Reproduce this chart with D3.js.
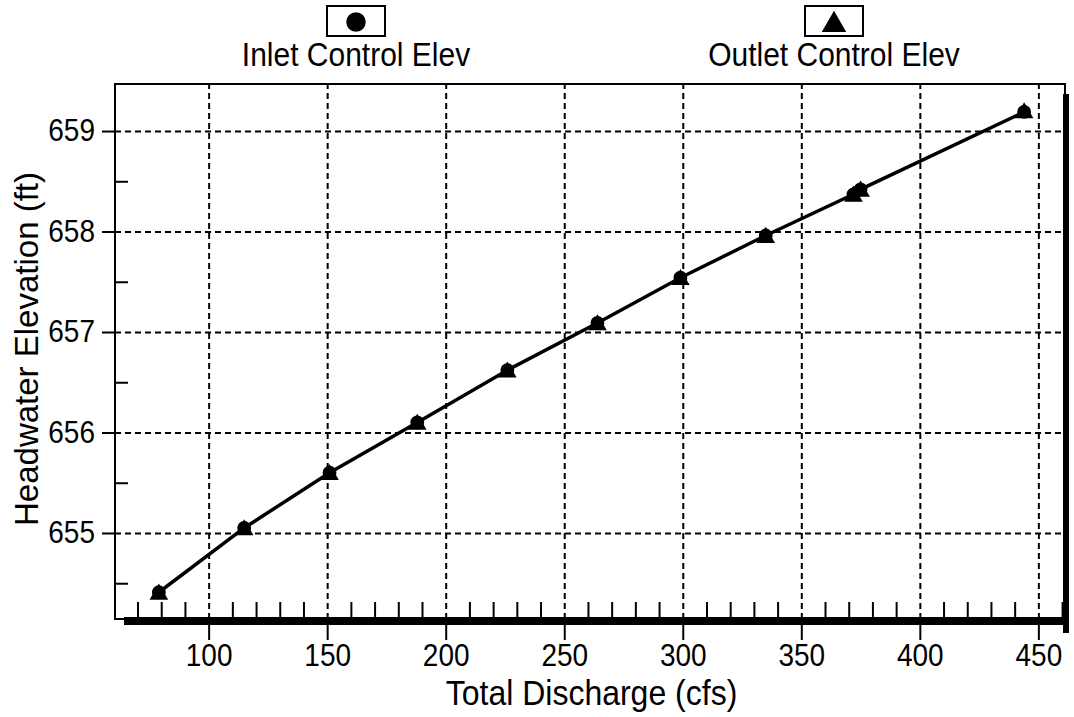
<!DOCTYPE html>
<html>
<head>
<meta charset="utf-8">
<script src="https://d3js.org/d3.v7.min.js"></script>
<style>
  body { margin: 0; background: #fff; }
  text { font-family: "Liberation Sans", Arial, sans-serif; fill: #000; }
</style>
</head>
<body>
<div id="chart"></div>
<script>
// data
var discharge  = [79, 115, 151, 188, 226, 264, 299, 335, 372, 375, 444];
var inletElev  = [654.41, 655.05, 655.60, 656.10, 656.62, 657.09, 657.54, 657.96, 658.37, 658.42, 659.19];
var outletElev = [654.40, 655.04, 655.59, 656.09, 656.61, 657.08, 657.53, 657.95, 658.36, 658.41, 659.19];
var xTicks = [100, 150, 200, 250, 300, 350, 400, 450];
var yTicks = [655, 656, 657, 658, 659];
var xMinor = d3.range(70, 461, 10).filter(function(d) { return d % 50 != 0; });
var yMinor = [654.5, 655.5, 656.5, 657.5, 658.5];
var legendNames = ["Inlet Control Elev", "Outlet Control Elev"];

// set the dimensions and margins of the graph
var margin = {top: 84, right: 6, bottom: 98, left: 115},
    width = 1074 - margin.left - margin.right,
    height = 717 - margin.top - margin.bottom;

var svg = d3.select("#chart")
  .append("svg")
    .attr("width", 1074)
    .attr("height", 717)
  .append("g")
    .attr("transform", "translate(" + margin.left + "," + margin.top + ")");

var x = d3.scaleLinear()
  .domain([60.5, 462.5])
  .range([0, width]);

var y = d3.scaleLinear()
  .domain([654.144, 659.468])
  .range([height, 0]);

// dashed grid
svg.append("g")
  .attr("class", "grid")
  .attr("transform", "translate(0," + height + ")")
  .call(d3.axisBottom(x).tickValues(xTicks).tickSize(-height).tickFormat(""));
svg.append("g")
  .attr("class", "grid")
  .call(d3.axisLeft(y).tickValues(yTicks).tickSize(-width).tickFormat(""));
svg.selectAll(".grid .domain").remove();
svg.selectAll(".grid line")
  .attr("stroke", "#000")
  .attr("stroke-width", 2)
  .attr("stroke-dasharray", "6,4");

// minor ticks pointing inward
svg.append("g")
  .attr("transform", "translate(0," + height + ")")
  .call(d3.axisBottom(x).tickValues(xMinor).tickSize(-17).tickFormat(""))
  .selectAll("line").attr("stroke-width", 2);
svg.append("g")
  .call(d3.axisLeft(y).tickValues(yMinor).tickSize(-13).tickFormat(""))
  .selectAll("line").attr("stroke-width", 2);

// frame with heavy shadow at right and bottom
svg.append("rect")
  .attr("x", 0).attr("y", 0)
  .attr("width", width - 3).attr("height", height)
  .attr("fill", "none")
  .attr("stroke", "#000")
  .attr("stroke-width", 2);
svg.append("rect")
  .attr("x", 9).attr("y", height - 2)
  .attr("width", width - 9).attr("height", 8)
  .attr("fill", "#000");
svg.append("rect")
  .attr("x", width - 5).attr("y", 10)
  .attr("width", 6).attr("height", height + 4)
  .attr("fill", "#000");

// major axes with labels (text a bit stretched vertically, like the original)
var xAxis = svg.append("g")
  .attr("transform", "translate(0," + height + ")")
  .call(d3.axisBottom(x).tickValues(xTicks).tickSize(21).tickPadding(2));
var yAxis = svg.append("g")
  .call(d3.axisLeft(y).tickValues(yTicks).tickSize(13).tickPadding(7).tickFormat(d3.format("d")));
svg.selectAll(".domain").remove();
xAxis.selectAll("line").attr("stroke-width", 2);
yAxis.selectAll("line").attr("stroke-width", 2);
xAxis.selectAll("text")
  .attr("font-size", 28)
  .attr("font-family", "Liberation Sans, Arial, sans-serif")
  .attr("transform", "scale(1,1.1)");
yAxis.selectAll("text")
  .attr("font-size", 28)
  .attr("font-family", "Liberation Sans, Arial, sans-serif")
  .attr("transform", "scale(1,1.1)");

// line
var pts = discharge.map(function(d, i) { return [d, inletElev[i]]; });
svg.append("path")
  .datum(pts)
  .attr("fill", "none")
  .attr("stroke", "#000")
  .attr("stroke-width", 3.5)
  .attr("d", d3.line()
    .x(function(d) { return x(d[0]); })
    .y(function(d) { return y(d[1]); }));

// markers
svg.selectAll(".inlet")
  .data(discharge)
  .enter()
  .append("path")
    .attr("class", "inlet")
    .attr("d", d3.symbol().type(d3.symbolCircle).size(150))
    .attr("transform", function(d, i) { return "translate(" + x(d) + "," + y(inletElev[i]) + ")"; })
    .attr("fill", "#000");
svg.selectAll(".outlet")
  .data(discharge)
  .enter()
  .append("path")
    .attr("class", "outlet")
    .attr("d", d3.symbol().type(d3.symbolTriangle).size(150))
    .attr("transform", function(d, i) { return "translate(" + x(d) + "," + (y(outletElev[i]) + 1) + ")"; })
    .attr("fill", "#000");

// axis titles
svg.append("text")
  .attr("transform", "translate(" + (width / 2) + "," + (height + 86) + ")scale(1,1.08)")
  .attr("text-anchor", "middle")
  .attr("font-size", 32)
  .text("Total Discharge (cfs)");
svg.append("text")
  .attr("transform", "translate(" + (38 - margin.left) + "," + 265 + ")rotate(-90)")
  .attr("text-anchor", "middle")
  .attr("font-size", 33)
  .text("Headwater Elevation (ft)");

// legend above the plot
var legendX = [356, 834];
var legend = d3.select("svg").selectAll(".legend")
  .data(legendNames)
  .enter()
  .append("g")
    .attr("class", "legend")
    .attr("transform", function(d, i) { return "translate(" + legendX[i] + ",0)"; });
legend.append("rect")
  .attr("x", -29).attr("y", 6)
  .attr("width", 58).attr("height", 30)
  .attr("fill", "#fff")
  .attr("stroke", "#000")
  .attr("stroke-width", 2);
legend.append("path")
  .attr("d", function(d, i) {
    return i == 0 ? d3.symbol().type(d3.symbolCircle).size(300)()
                  : d3.symbol().type(d3.symbolTriangle).size(260)();
  })
  .attr("transform", function(d, i) { return "translate(0," + (i == 0 ? 22 : 25) + ")"; })
  .attr("fill", "#000");
legend.append("text")
  .attr("transform", "translate(0,66)scale(1,1.12)")
  .attr("text-anchor", "middle")
  .attr("font-size", 30)
  .text(function(d) { return d; });
</script>
</body>
</html>
